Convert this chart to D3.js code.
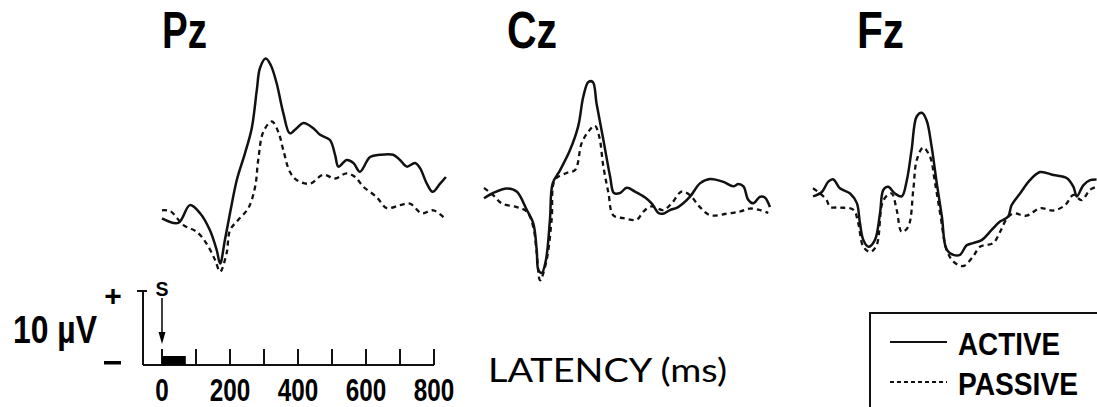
<!DOCTYPE html>
<html>
<head>
<meta charset="utf-8">
<script src="https://cdn.jsdelivr.net/npm/d3@7"></script>
<style>
  html, body { margin: 0; padding: 0; background: #fff; }
  svg { display: block; }
</style>
</head>
<body>
<svg id="chart" width="1097" height="407"></svg>
<script>
// ERP waveforms, [latency ms, amplitude µV] per electrode and condition
const electrodes = ["Pz", "Cz", "Fz"];

const pzActive = [[0,-0.6],[48,-1.2],[82,1.2],[112,0.1],[141,-2.2],[161,-4.9],[171,-6.7],[185,-3.5],
  [200,0.1],[220,4.6],[244,8.2],[264,11.6],[279,16.8],[288,19.7],[305,21.0],[320,20.1],[337,17.7],
  [357,13.6],[376,10.9],[396,11.6],[416,12.3],[445,11.6],[465,10.7],[494,10.0],[509,8.0],[519,6.4],
  [543,7.3],[563,6.9],[582,5.7],[612,7.7],[641,8.0],[680,8.0],[700,7.3],[720,6.4],[744,6.9],
  [759,6.2],[779,4.1],[796,3.0],[818,4.1],[835,5.0]];
const pzPassive = [[0,0.5],[24,0.4],[63,-1.5],[102,-2.4],[131,-4.0],[156,-6.2],[171,-7.8],[190,-5.3],
  [200,-2.2],[224,-0.8],[254,0.8],[274,3.7],[283,7.3],[298,11.1],[323,12.5],[342,11.1],[357,8.6],
  [376,5.7],[396,4.6],[435,4.1],[474,5.3],[509,4.8],[543,5.5],[568,5.0],[592,3.7],[631,2.3],
  [661,0.8],[700,1.2],[729,1.4],[764,0.1],[798,0.5],[832,-0.6]];

const czActive = [[0,-0.7],[27,0.0],[67,0.6],[96,0.2],[126,-2.3],[145,-4.1],[155,-7.7],[160,-10.4],
  [170,-10.8],[182,-9.1],[194,-3.6],[202,1.3],[224,3.1],[253,5.8],[277,9.0],[292,13.0],[307,15.0],
  [320,15.0],[331,12.1],[351,7.2],[371,2.2],[382,0.0],[400,0.0],[420,0.7],[444,0.2],[474,-0.6],
  [493,-1.4],[513,-2.7],[527,-2.8],[547,-2.3],[571,-1.9],[606,-0.5],[635,1.3],[665,1.9],[704,1.5],
  [733,0.9],[748,1.2],[763,0.9],[777,-0.9],[792,-1.4],[812,-0.5],[826,-0.6],[841,-1.9]];
const czPassive = [[0,0.7],[27,-0.3],[52,-1.4],[96,-1.9],[126,-2.5],[145,-4.6],[155,-8.1],[165,-11.8],
  [184,-9.1],[199,-3.6],[209,1.8],[243,2.7],[268,3.1],[287,6.7],[307,8.3],[326,9.1],[339,7.6],
  [351,3.6],[366,0.0],[380,-3.0],[410,-3.4],[449,-3.6],[469,-2.5],[493,-1.8],[527,-2.3],[552,-1.4],
  [581,0.2],[606,-0.3],[635,-1.9],[665,-3.0],[714,-2.8],[753,-2.5],[782,-2.1],[812,-2.3],[836,-2.7]];

const fzActive = [[0,-0.6],[26,0.0],[45,1.4],[60,1.7],[79,0.5],[109,-0.2],[129,-1.5],[138,-4.2],
  [148,-6.5],[163,-7.4],[182,-6.5],[197,-2.9],[207,0.3],[221,0.7],[241,-0.2],[261,-0.6],[276,1.6],
  [290,5.7],[305,10.2],[320,10.7],[334,9.7],[349,6.1],[364,1.2],[379,-3.3],[393,-7.8],[413,-8.5],
  [432,-8.5],[452,-7.2],[471,-6.9],[496,-6.5],[526,-5.1],[550,-4.0],[574,-3.3],[584,-1.8],
  [609,-0.2],[638,1.6],[668,2.7],[707,2.3],[746,1.9],[766,0.7],[776,-0.6],[795,0.9],[815,1.6],[834,1.7]];
const fzPassive = [[0,0.5],[21,-0.2],[40,-1.1],[50,-2.0],[79,-2.1],[119,-2.4],[133,-4.2],[148,-7.4],
  [168,-8.1],[187,-7.2],[207,-1.1],[231,-0.2],[246,-2.4],[261,-5.4],[280,-4.7],[295,0.3],[305,4.3],
  [324,6.0],[344,4.8],[359,1.2],[374,-2.9],[393,-7.8],[413,-9.4],[442,-10.0],[471,-8.7],[491,-7.4],
  [530,-6.9],[550,-5.4],[570,-3.6],[589,-2.9],[628,-3.2],[668,-2.2],[707,-2.5],[741,-1.8],
  [766,-0.4],[790,-1.1],[815,0.3],[834,0.7]];

const activeSeries = [pzActive, czActive, fzActive];
const passiveSeries = [pzPassive, czPassive, fzPassive];

// calibration bar
const latencyTicks = [0, 100, 200, 300, 400, 500, 600, 700, 800];
const latencyLabels = [0, 200, 400, 600, 800];
const stimulusSpan = [0, 70];      // ms
const amplitudeBar = 10;           // µV

const legendLabels = ["ACTIVE", "PASSIVE"];
const axisTitle = "LATENCY (ms)";

// ---- layout ----
const svg = d3.select("#chart");
const W = 1097, H = 407;
svg.append("rect").attr("width", W).attr("height", H).attr("fill", "#fff");

const msPx = 0.34;          // px per ms
const uvPx = 7.4;           // px per µV
const panelLeft = [162, 484, 813];
const panelBase = [214, 193, 192];
const titleX = [162, 507, 857];
const titleW = [45, 50, 47];

const boldFont = "'Liberation Sans', Arial, sans-serif";

electrodes.forEach((name, i) => {
  const x = d3.scaleLinear().domain([0, 800]).range([panelLeft[i], panelLeft[i] + 800 * msPx]);
  const y = d3.scaleLinear().domain([0, 10]).range([panelBase[i], panelBase[i] - 10 * uvPx]);
  const line = d3.line()
    .x(d => x(d[0]))
    .y(d => y(d[1]))
    .curve(d3.curveCatmullRom.alpha(0.5));

  const g = svg.append("g").attr("class", "panel-" + name);

  g.append("path")
    .datum(passiveSeries[i])
    .attr("d", line)
    .attr("fill", "none")
    .attr("stroke", "#111")
    .attr("stroke-width", 2.3)
    .attr("stroke-dasharray", "5,4");

  g.append("path")
    .datum(activeSeries[i])
    .attr("d", line)
    .attr("fill", "none")
    .attr("stroke", "#111")
    .attr("stroke-width", 2.5)
    .attr("stroke-linejoin", "round");

  g.append("text")
    .attr("x", titleX[i])
    .attr("y", 48)
    .attr("font-family", boldFont)
    .attr("font-weight", "bold")
    .attr("font-size", 52)
    .attr("textLength", titleW[i])
    .attr("lengthAdjust", "spacingAndGlyphs")
    .attr("fill", "#000")
    .text(name);
});

// ---- calibration: latency axis and amplitude bar ----
const xs = d3.scaleLinear().domain([0, 800]).range([162, 162 + 800 * msPx]);
const ys = d3.scaleLinear().domain([0, amplitudeBar]).range([365, 365 - amplitudeBar * uvPx]);
const cal = svg.append("g").attr("stroke", "#111").attr("fill", "none");

const barX = xs(0) - 19;
cal.append("line").attr("x1", barX).attr("x2", barX).attr("y1", ys(amplitudeBar)).attr("y2", ys(0)).attr("stroke-width", 2);
cal.append("line").attr("x1", barX - 6).attr("x2", barX + 4).attr("y1", ys(amplitudeBar)).attr("y2", ys(amplitudeBar)).attr("stroke-width", 2);
cal.append("line").attr("x1", barX).attr("x2", xs(800)).attr("y1", ys(0)).attr("y2", ys(0)).attr("stroke-width", 2);

cal.selectAll(".tick").data(latencyTicks).enter().append("line")
  .attr("x1", d => xs(d)).attr("x2", d => xs(d))
  .attr("y1", ys(0) - 16).attr("y2", ys(0))
  .attr("stroke-width", 2);

cal.append("rect")
  .attr("x", xs(stimulusSpan[0])).attr("y", ys(0) - 9)
  .attr("width", xs(stimulusSpan[1]) - xs(stimulusSpan[0])).attr("height", 9)
  .attr("fill", "#000").attr("stroke", "none");

// stimulus arrow
cal.append("line").attr("x1", xs(0)).attr("x2", xs(0)).attr("y1", 298).attr("y2", 334).attr("stroke-width", 1.6);
svg.append("path")
  .attr("d", d3.line()([[xs(0) - 3.5, 332], [xs(0) + 3.5, 332], [xs(0), 344]]) + "Z")
  .attr("fill", "#000");

svg.append("text")
  .attr("x", xs(0)).attr("y", 296)
  .attr("text-anchor", "middle")
  .attr("font-family", boldFont).attr("font-weight", "bold").attr("font-size", 20)
  .attr("textLength", 13).attr("lengthAdjust", "spacingAndGlyphs")
  .text("S");

svg.selectAll(".lat-label").data(latencyLabels).enter().append("text")
  .attr("x", d => xs(d)).attr("y", 401)
  .attr("text-anchor", "middle")
  .attr("font-family", boldFont).attr("font-weight", "bold").attr("font-size", 31)
  .attr("textLength", d => String(d).length * 13.5)
  .attr("lengthAdjust", "spacingAndGlyphs")
  .attr("fill", "#000")
  .text(d => d);

svg.append("text")
  .attr("x", 13).attr("y", 343)
  .attr("font-family", boldFont).attr("font-weight", "bold").attr("font-size", 38)
  .attr("textLength", 84).attr("lengthAdjust", "spacingAndGlyphs")
  .text("10 µV");

svg.append("text")
  .attr("x", 113).attr("y", 306)
  .attr("text-anchor", "middle")
  .attr("font-family", boldFont).attr("font-weight", "bold").attr("font-size", 30)
  .text("+");
svg.append("rect").attr("x", 104).attr("y", 361).attr("width", 17).attr("height", 3.5).attr("fill", "#000");

// axis title
svg.append("text")
  .attr("x", 488).attr("y", 382)
  .attr("font-family", "Lato, 'Open Sans', sans-serif")
  .attr("font-size", 32)
  .attr("textLength", 239).attr("lengthAdjust", "spacingAndGlyphs")
  .attr("fill", "#000")
  .text(axisTitle);

// ---- legend ----
const lg = svg.append("g");
lg.append("rect")
  .attr("x", 870).attr("y", 313).attr("width", 260).attr("height", 120)
  .attr("fill", "none").attr("stroke", "#111").attr("stroke-width", 2);

const legendRows = [
  { label: legendLabels[0], y: 342, dash: null, base: 355, w: 102 },
  { label: legendLabels[1], y: 382, dash: "4,3", base: 395, w: 120 }
];
legendRows.forEach(r => {
  lg.append("line")
    .attr("x1", 890).attr("x2", 947).attr("y1", r.y).attr("y2", r.y)
    .attr("stroke", "#111").attr("stroke-width", 2)
    .attr("stroke-dasharray", r.dash);
  lg.append("text")
    .attr("x", 958).attr("y", r.base)
    .attr("font-family", boldFont).attr("font-weight", "bold").attr("font-size", 32)
    .attr("textLength", r.w).attr("lengthAdjust", "spacingAndGlyphs")
    .attr("fill", "#000")
    .text(r.label);
});
</script>
</body>
</html>
